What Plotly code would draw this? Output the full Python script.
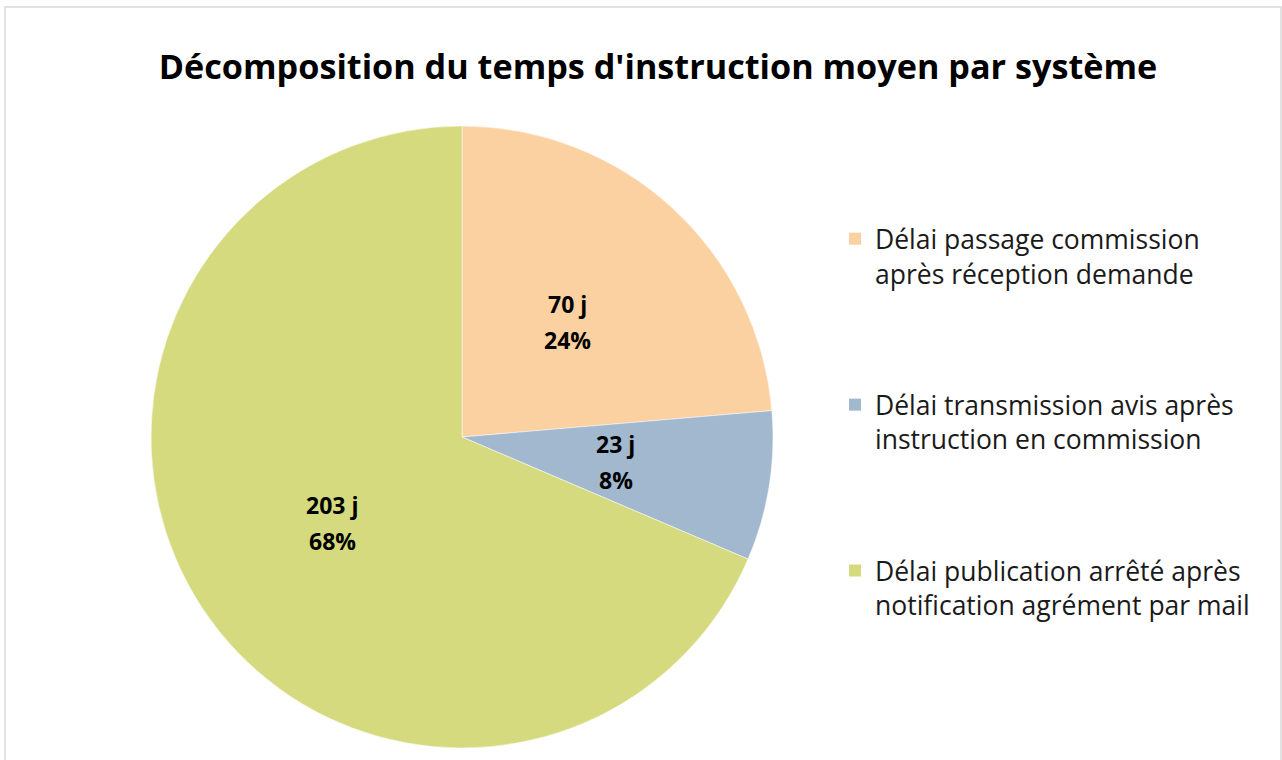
import math
import plotly.graph_objects as go

categories = [
    "Délai passage commission<br>après réception demande",
    "Délai transmission avis après<br>instruction en commission",
    "Délai publication arrêté après<br>notification agrément par mail",
]
values_days = [70, 23, 203]
percent_labels = [24, 8, 68]
colors = ["#FCD1A2", "#A2B8CE", "#D4DA7D"]
title_text = "Décomposition du temps d'instruction moyen par système"

W, H = 1282, 760
# pie geometry (pixels)
PL, PR, PT, PB = 151, 773, 126, 748
cx, cy = (PL + PR) / 2, (PT + PB) / 2
R = (PR - PL) / 2

fig = go.Figure()
fig.add_trace(go.Pie(
    labels=categories,
    values=values_days,
    textinfo="none",
    marker=dict(colors=colors, line=dict(color="white", width=0.5)),
    sort=False,
    direction="clockwise",
    rotation=0,
    showlegend=False,
    domain=dict(x=[PL / W, PR / W], y=[1 - PB / H, 1 - PT / H]),
    hoverinfo="label+value+percent",
))

# data labels at half radius along each slice's mid-angle
total = sum(values_days)
cum = 0
annotations = []
for v, p in zip(values_days, percent_labels):
    mid = (cum + v / 2) / total * 2 * math.pi
    cum += v
    lx = cx + 0.5 * R * math.sin(mid)
    ly = cy - 0.5 * R * math.cos(mid)
    for txt, dy in ((f"{v} j", -18), (f"{p}%", 18)):
        annotations.append(dict(
            x=lx / W, y=1 - (ly + dy) / H, xref="paper", yref="paper",
            text=txt, showarrow=False, xanchor="center", yanchor="middle",
            font=dict(family="Open Sans", size=23, color="#000000", weight="bold"),
        ))

for i, (cat, col) in enumerate(zip(categories, colors)):
    fig.add_trace(go.Scatter(
        x=[None], y=[None], mode="markers", name=cat,
        marker=dict(symbol="square", size=16, color=col),
        legendgroup=f"g{i}", showlegend=True,
    ))

fig.update_layout(
    width=W, height=H,
    margin=dict(l=0, r=0, t=0, b=0),
    paper_bgcolor="white", plot_bgcolor="white",
    xaxis=dict(visible=False), yaxis=dict(visible=False),
    title=dict(text=title_text, x=658 / W, xanchor="center", y=1 - 67 / H, yanchor="middle",
               font=dict(family="Open Sans", size=34.2, color="#000000", weight="bold")),
    legend=dict(x=835 / W, xanchor="left", y=1 - 215 / H, yanchor="top",
                font=dict(family="Open Sans", size=26.5, color="#1a1a1a"),
                valign="top", tracegroupgap=94, bgcolor="rgba(0,0,0,0)",
                itemsizing="constant"),
    annotations=annotations,
    shapes=[dict(type="rect", xref="paper", yref="paper",
                 x0=5 / W, x1=1281 / W, y0=-0.02, y1=1 - 7 / H,
                 line=dict(color="#D9D9D9", width=1.5), fillcolor="rgba(0,0,0,0)")],
)

fig.write_html("out.html", config={"displayModeBar": False},
               post_script="document.body.style.margin='0';")
